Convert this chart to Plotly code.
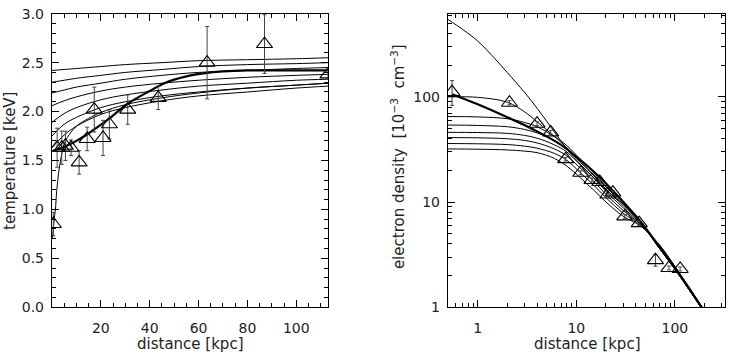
import plotly.graph_objects as go

# ---------------- data ----------------
# shared radii of the data points [kpc]
radius = [0.55, 2.1, 4.0, 5.5, 7.8, 11.1, 14.4, 17.3, 20.9, 23.5, 31.0, 43.5, 63.5, 87.0, 113.0]

# temperature [keV] and errors
temp = [0.85, 1.63, 1.63, 1.65, 1.63, 1.48, 1.72, 2.02, 1.73, 1.87, 2.02, 2.14, 2.50, 2.69, 2.38]
temp_err = [0.12, 0.20, 0.17, 0.15, 0.08, 0.12, 0.12, 0.23, 0.18, 0.15, 0.15, 0.12, 0.37, 0.30, 0.05]

# electron density [1e-3 cm^-3] and errors
dens = [111, 88, 55.6, 46, 25.6, 19, 16.2, 15.5, 11.8, 12.3, 7.3, 6.3, 2.8, 2.36, 2.31]
dens_err_up = [32, 4, 2.5, 2, 1, 0.8, 0.7, 0.7, 0.5, 0.5, 0.3, 0.3, 0.35, 0.1, 0.1]
dens_err_dn = [28, 4, 2.5, 2, 1, 0.8, 0.7, 0.7, 0.5, 0.5, 0.3, 0.3, 0.35, 0.1, 0.1]

# temperature model family
t_grid = [0, 5, 10, 20, 30, 45, 60, 80, 100, 113]
t_family = [
    [2.42, 2.43, 2.44, 2.46, 2.48, 2.50, 2.52, 2.53, 2.54, 2.55],
    [2.30, 2.32, 2.34, 2.37, 2.40, 2.43, 2.46, 2.48, 2.49, 2.50],
    [2.19, 2.22, 2.25, 2.29, 2.33, 2.37, 2.40, 2.42, 2.44, 2.45],
    [2.06, 2.11, 2.15, 2.21, 2.25, 2.29, 2.32, 2.35, 2.37, 2.38],
    [1.89, 1.98, 2.04, 2.12, 2.17, 2.22, 2.26, 2.29, 2.32, 2.33],
    [1.75, 1.87, 1.94, 2.04, 2.10, 2.16, 2.20, 2.24, 2.27, 2.29],
    [1.63, 1.76, 1.85, 1.97, 2.04, 2.11, 2.16, 2.20, 2.24, 2.26],
]
t_steep_x = [0.2, 0.55, 1.0, 1.4, 1.9, 2.7, 3.7, 5.0, 7.8, 10.5, 15, 20, 30, 45, 60, 80, 100, 113]
t_steep_y = [0.70, 0.80, 0.92, 1.00, 1.18, 1.37, 1.53, 1.67, 1.79, 1.86, 1.93, 1.99, 2.07, 2.14, 2.19, 2.24, 2.27, 2.29]
t_thick_x = [0.55, 3, 6, 10, 14, 18, 23, 31, 40, 46, 55, 62, 70, 80, 95, 113]
t_thick_y = [1.60, 1.62, 1.65, 1.70, 1.76, 1.83, 1.92, 2.08, 2.21, 2.29, 2.36, 2.39, 2.41, 2.42, 2.42, 2.42]

# density model family
n_grid = [0.5, 1, 2, 3, 4, 6, 8, 11, 15, 20, 30, 45, 70, 100, 140, 190]
n_family = [
    [100, 99, 89, 72, 58, 42, 33, 24, 18, 14, 10, 6.4, 3.6, 2.3, 1.45, 0.95],
    [65, 64.5, 62, 57, 52, 42, 34.5, 25.5, 19, 14, 9.6, 6.4, 3.65, 2.33, 1.46, 0.96],
    [54, 53.5, 52, 49, 45.5, 38.5, 32, 24, 18, 13.3, 9.2, 6.3, 3.7, 2.36, 1.47, 0.97],
    [46, 45.8, 45, 43, 40.5, 35, 30, 22.5, 17, 12.6, 8.8, 6.2, 3.75, 2.39, 1.49, 0.98],
    [41, 40.8, 40, 38.5, 36.5, 32, 27.5, 21, 15.8, 11.8, 8.3, 6.1, 3.8, 2.41, 1.50, 0.98],
    [36, 35.8, 35.2, 34, 32.5, 29, 25, 19, 14.5, 11, 7.8, 6.0, 3.85, 2.43, 1.51, 0.99],
    [32, 31.8, 31.3, 30.5, 29.5, 26, 22, 17, 13, 10, 7.3, 5.9, 3.9, 2.45, 1.52, 0.99],
]
n_steep_x = [0.5, 0.7, 1, 1.5, 2, 3, 4, 5.5, 7, 9, 12, 16, 22, 30, 45, 70, 100, 140, 190]
n_steep_y = [545, 440, 340, 230, 170, 110, 78, 52, 38, 28, 21, 16, 12, 9.5, 6.4, 3.6, 2.3, 1.45, 0.95]
n_thick_x = [0.55, 1, 2, 4, 7, 10, 15, 20, 30, 45, 70, 100, 140, 190]
n_thick_y = [106, 85, 64, 47, 35, 27, 19.5, 15, 10, 6.5, 3.7, 2.35, 1.5, 0.97]

# tick positions
t_ticks = [0, 0.5, 1.0, 1.5, 2.0, 2.5, 3.0]
d_ticks = [20, 40, 60, 80, 100]
log_ticks = [1, 10, 100]

# ---------------- figure ----------------
W, H = 730, 362
FONT = dict(family="DejaVu Sans", size=14, color="#222")
TFONT = dict(family="DejaVu Sans", size=15, color="#222")

fig = go.Figure()

thin = dict(color="black", width=1, shape="spline", smoothing=1.0)
thick = dict(color="black", width=2.2, shape="spline", smoothing=1.0)

for ys in t_family:
    fig.add_trace(go.Scatter(x=t_grid, y=ys, mode="lines", line=thin, xaxis="x", yaxis="y", showlegend=False))
fig.add_trace(go.Scatter(x=t_steep_x, y=t_steep_y, mode="lines", line=thin, xaxis="x", yaxis="y", showlegend=False))
fig.add_trace(go.Scatter(x=t_thick_x, y=t_thick_y, mode="lines", line=thick, xaxis="x", yaxis="y", showlegend=False))

marker = dict(symbol="triangle-up-open", size=14, color="black", line=dict(width=1.1, color="black"))
fig.add_trace(go.Scatter(x=radius, y=temp, mode="markers", marker=marker,
                         error_y=dict(type="data", array=temp_err, color="#444", thickness=1, width=2),
                         xaxis="x", yaxis="y", showlegend=False))

for ys in n_family:
    fig.add_trace(go.Scatter(x=n_grid, y=ys, mode="lines", line=thin, xaxis="x2", yaxis="y2", showlegend=False))
fig.add_trace(go.Scatter(x=n_steep_x, y=n_steep_y, mode="lines", line=thin, xaxis="x2", yaxis="y2", showlegend=False))
fig.add_trace(go.Scatter(x=n_thick_x, y=n_thick_y, mode="lines", line=thick, xaxis="x2", yaxis="y2", showlegend=False))
fig.add_trace(go.Scatter(x=radius, y=dens, mode="markers", marker=marker,
                         error_y=dict(type="data", array=dens_err_up, arrayminus=dens_err_dn,
                                      color="#444", thickness=1, width=2),
                         xaxis="x2", yaxis="y2", showlegend=False))

# minor tick positions (axis furniture only)
lin_minor_x = [v for v in range(5, 115, 5) if v % 20 != 0]
lin_minor_y = [round(i * 0.1, 1) for i in range(1, 30) if i % 5 != 0]
log_minor_x = [m * 10 ** e for e in (-1, 0, 1, 2) for m in range(2, 10) if 0.5 <= m * 10 ** e <= 320]
log_minor_y = [m * 10 ** e for e in (0, 1, 2) for m in range(2, 10) if m * 10 ** e <= 610]

ydom = [1 - 313 / H, 1 - 6 / H]
axis_common = dict(showline=True, linecolor="black", linewidth=1.4, mirror="allticks",
                   ticks="inside", ticklen=7, tickwidth=1, tickcolor="black",
                   showgrid=False, zeroline=False, tickfont=FONT, tickmode="array",
                   ticklabeloverflow="allow")
minor_common = dict(ticks="inside", ticklen=4, tickwidth=1, tickcolor="black", showgrid=False,
                    tickmode="array")

fig.update_layout(
    width=W, height=H, margin=dict(l=0, r=0, t=0, b=0),
    paper_bgcolor="white", plot_bgcolor="white", font=FONT,
    xaxis=dict(domain=[52 / W, 328 / W], range=[0, 113], anchor="y",
               tickvals=d_ticks, ticklabelstandoff=8,
               minor=dict(tickvals=lin_minor_x, **minor_common), **axis_common),
    yaxis=dict(domain=ydom, range=[0, 3.0], anchor="x",
               tickvals=t_ticks, ticktext=[f"{v:.1f}" for v in t_ticks], ticklabelstandoff=4,
               minor=dict(tickvals=lin_minor_y, **minor_common), **axis_common),
    xaxis2=dict(domain=[448 / W, 725 / W], type="log", range=[-0.301, 2.508], anchor="y2",
                tickvals=log_ticks, ticktext=[str(v) for v in log_ticks], ticklabelstandoff=8,
                minor=dict(tickvals=log_minor_x, **minor_common), **axis_common),
    yaxis2=dict(domain=ydom, type="log", range=[0, 2.791], anchor="x2",
                tickvals=log_ticks, ticktext=[str(v) for v in log_ticks], ticklabelstandoff=4,
                minor=dict(tickvals=log_minor_y, **minor_common), **axis_common),
    annotations=[
        dict(text="distance [kpc]", x=190 / W, y=0, xref="paper", yref="paper",
             showarrow=False, font=TFONT, xanchor="center", yanchor="bottom", borderpad=0),
        dict(text="distance [kpc]", x=587 / W, y=0, xref="paper", yref="paper",
             showarrow=False, font=TFONT, xanchor="center", yanchor="bottom", borderpad=0),
        dict(text="temperature [keV]", x=10 / W, y=1 - 160 / H, xref="paper", yref="paper",
             showarrow=False, font=TFONT, textangle=-90, xanchor="center", yanchor="middle"),
        dict(text="electron density  [10<sup>−3</sup>  cm<sup>−3</sup>]", x=398 / W, y=1 - 156 / H,
             xref="paper", yref="paper", showarrow=False, font=TFONT, textangle=-90,
             xanchor="center", yanchor="middle"),
    ],
)

fig.write_html("out.html")
